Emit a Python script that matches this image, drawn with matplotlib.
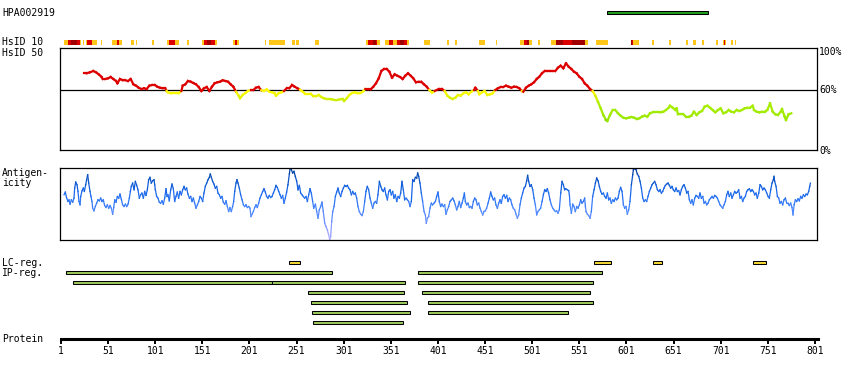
import matplotlib
matplotlib.use("Agg")
import matplotlib.pyplot as plt
import numpy as np
from matplotlib.collections import LineCollection
from matplotlib.colors import LinearSegmentedColormap

W, H = 850, 380
PX = 0.9425      # pixels per residue
X0 = 61          # pixel column of residue 1
FONT = "DejaVu Sans Mono"

# ---------------- data ----------------
antigen_start, antigen_end = 580, 688

# HsID 10 strip: start, end, level (1 = low, 2 = mid, 3 = high)
hsid10_start = [4.5, 8.1, 11.3, 17.7, 21.2, 24.0, 27.5, 28.9, 33.9, 43.4, 55.1, 60.1, 62.2,
                75.3, 80.6, 97.6, 113.1, 115.3, 121.6, 134.7, 150.6, 152.7, 155.6, 160.5,
                164.4, 183.8, 185.9, 188.1, 217.4, 222.0, 246.1, 250.3, 270.5, 324.6, 326.7,
                331.7, 335.2, 336.6, 344.8, 349.3, 352.9, 357.8, 360.7, 364.9, 367.8, 386.1,
                410.2, 419.0, 444.5, 462.2, 488.0, 492.3, 495.1, 497.2, 506.8, 520.9, 526.2,
                533.3, 542.9, 557.0, 568.6, 605.8, 606.9, 608.2, 627.7, 646.1, 664.1, 671.6,
                681.1, 696.0, 703.7, 704.5, 705.8, 712.2, 715.6]
hsid10_end = [8.1, 11.3, 17.7, 21.2, 22.5, 25.4, 28.9, 33.9, 39.5, 44.8, 60.1, 62.2, 65.4,
              78.5, 82.0, 99.4, 115.3, 121.6, 126.2, 136.5, 152.7, 155.6, 160.5, 164.4,
              166.2, 185.9, 188.1, 189.9, 218.1, 239.0, 248.9, 253.8, 274.7, 326.7, 331.7,
              335.2, 336.6, 339.5, 349.3, 352.9, 357.8, 360.7, 364.9, 367.8, 369.9, 392.5,
              412.4, 420.8, 450.9, 463.3, 492.3, 495.1, 497.2, 500.4, 509.2, 526.2, 533.3,
              542.9, 557.0, 559.8, 581.0, 606.9, 608.2, 613.9, 629.8, 647.9, 666.3, 674.4,
              683.2, 697.8, 704.5, 705.8, 706.6, 714.4, 717.1]
hsid10_level = [1, 2, 3, 2, 1, 1, 1, 2, 1, 1, 1, 2, 1,
                1, 1, 1, 1, 2, 1, 1, 1, 2, 3, 2,
                1, 1, 2, 1, 1, 1, 1, 1, 1, 1, 2,
                3, 2, 1, 1, 2, 1, 2, 3, 2, 1, 1,
                1, 1, 1, 1, 1, 2, 3, 1, 1, 1, 3,
                2, 3, 1, 1, 3, 2, 1, 1, 1, 1, 1,
                1, 1, 1, 2, 1, 1, 1]

# HsID 50 (% identity)
hsid50_pos = [25.4, 28.2, 31.8, 35.3, 38.1, 41.0, 43.8, 45.2, 48.0, 50.9,
              53.7, 56.5, 59.4, 60.8, 63.6, 66.4, 69.3, 72.1, 74.9, 77.8,
              80.6, 83.4, 86.2, 89.1, 91.9, 94.7, 97.6, 100.4, 103.2, 106.0,
              108.9, 111.7, 113.1, 114.5, 117.4, 120.2, 123.0, 125.8, 128.7, 130.1,
              132.9, 135.7, 138.6, 141.4, 144.2, 147.1, 149.9, 152.7, 155.6, 158.4,
              161.2, 164.0, 166.9, 169.7, 172.5, 175.4, 178.2, 181.0, 183.8, 186.7,
              189.5, 190.9, 193.7, 196.6, 199.4, 202.2, 205.1, 207.9, 210.7, 213.6,
              216.4, 219.2, 222.0, 224.9, 227.7, 229.1, 231.9, 234.8, 237.6, 240.4,
              243.3, 246.1, 248.9, 251.8, 254.6, 257.4, 260.2, 263.1, 265.9, 268.7,
              271.6, 274.4, 277.2, 280.0, 282.9, 285.7, 288.5, 291.4, 294.2, 297.0,
              299.9, 301.3, 304.1, 306.9, 309.8, 312.6, 315.4, 318.2, 321.1, 323.9,
              326.7, 329.6, 332.4, 335.2, 338.1, 340.9, 343.7, 346.5, 349.4, 352.2,
              355.0, 357.8, 360.7, 363.5, 366.3, 369.2, 372.0, 374.8, 377.6, 380.5,
              383.3, 386.1, 389.0, 391.8, 394.6, 397.5, 401.7,
              405.2, 408.1, 410.9, 413.7, 416.5, 419.4, 422.2, 425.0, 427.9, 430.7,
              433.5, 436.4, 439.2, 440.6, 443.4, 444.8, 447.7, 450.5, 453.3, 456.2,
              459.0, 461.8, 464.6, 467.5, 470.3, 473.1, 476.0, 478.8, 481.6, 484.5,
              487.3, 490.1, 491.5, 494.4, 497.2, 500.0, 502.8, 505.7, 508.5, 511.3,
              514.2, 517.0, 519.8, 522.6, 525.5, 528.3, 531.1, 534.0, 536.8, 539.6,
              542.5, 545.3, 548.1, 550.9, 553.8, 556.6, 559.4, 562.3, 565.1, 567.9,
              570.7, 573.6, 576.4, 579.2, 580.7, 583.5, 586.3, 589.1, 592.0, 594.8,
              597.6, 600.5, 603.3, 606.1, 609.0, 611.8, 614.6, 617.4, 620.3, 623.1,
              625.9, 628.8, 631.6, 634.4, 637.2, 640.1, 642.9, 645.7, 647.1, 650.0,
              652.8, 654.2, 655.6, 658.5, 661.3, 664.1, 667.0, 669.8, 672.6, 675.4,
              678.3, 681.1, 683.9, 686.8, 689.6, 692.4, 695.2, 698.1, 700.9, 703.7,
              706.6, 709.4, 712.2, 715.1, 717.9, 720.7, 723.5, 726.4, 729.2, 732.0,
              734.9, 736.3, 739.1, 741.9, 744.8, 747.6, 750.4, 753.3, 756.1, 758.9,
              761.7, 764.6, 766.0, 768.8, 770.2, 773.0, 775.9]
hsid50_pct = [76.7, 76.7, 77.7, 79.0, 77.7, 75.7, 73.3, 71.0, 71.0, 71.7,
              73.0, 71.0, 69.0, 66.7, 71.0, 69.7, 69.7, 69.0, 71.0, 65.7,
              64.3, 62.3, 61.0, 61.7, 61.0, 64.3, 65.0, 65.0, 63.3, 62.3,
              61.7, 61.7, 59.0, 57.7, 56.7, 56.7, 56.7, 56.7, 59.0, 64.3,
              65.7, 69.0, 68.3, 67.0, 65.7, 63.0, 59.0, 61.7, 63.0, 59.0,
              63.3, 66.7, 67.7, 68.3, 69.7, 69.0, 68.3, 65.7, 63.3, 58.3,
              54.3, 51.7, 55.0, 57.0, 59.0, 60.0, 60.0, 62.3, 63.0, 59.7,
              59.0, 60.7, 58.3, 57.7, 56.7, 54.3, 56.7, 57.7, 59.0, 61.7,
              61.7, 65.0, 63.3, 61.7, 60.3, 58.3, 56.3, 56.3, 56.3, 53.7,
              53.7, 55.0, 53.0, 51.7, 51.0, 51.0, 50.7, 50.0, 50.0, 50.7,
              51.0, 49.0, 51.7, 55.0, 57.0, 57.7, 56.7, 56.7, 58.3, 61.0,
              60.7, 60.7, 63.3, 66.7, 71.7, 79.0, 81.0, 81.0, 78.3, 72.3,
              75.7, 74.3, 73.0, 71.0, 74.3, 76.7, 74.3, 71.7, 67.7, 68.3,
              68.3, 65.7, 63.3, 60.0, 57.3, 59.0, 61.0,
              61.0, 59.0, 54.3, 52.3, 51.0, 52.3, 55.0, 54.3, 56.7, 57.7,
              55.7, 58.3, 60.0, 62.3, 59.0, 55.7, 57.7, 59.0, 55.0, 55.7,
              56.7, 60.0, 61.7, 63.0, 63.0, 64.3, 63.3, 62.3, 63.3, 63.0,
              61.7, 59.0, 58.3, 62.3, 64.3, 65.7, 67.7, 71.0, 73.3, 76.7,
              79.0, 79.0, 79.0, 79.0, 79.0, 82.3, 84.3, 81.7, 86.7, 83.3,
              81.0, 78.3, 76.7, 73.3, 71.0, 66.7, 64.3, 61.0, 59.0, 54.3,
              48.3, 41.7, 35.0, 30.0, 29.0, 35.0, 40.0, 40.0, 36.7, 34.3,
              32.3, 31.7, 32.3, 33.0, 32.3, 31.0, 31.7, 33.3, 34.3, 33.3,
              36.7, 37.7, 37.7, 37.7, 37.7, 38.3, 40.0, 42.3, 44.3, 42.3,
              40.0, 41.7, 35.7, 35.7, 35.7, 33.3, 33.3, 34.3, 38.3, 35.0,
              37.7, 39.0, 43.3, 44.3, 42.3, 40.0, 37.7, 40.0, 41.7, 36.7,
              37.7, 40.0, 38.3, 37.7, 40.0, 39.0, 40.0, 41.7, 42.3, 42.3,
              44.3, 40.0, 38.3, 37.7, 38.3, 38.3, 40.0, 46.7, 38.3, 35.7,
              35.0, 38.3, 41.0, 33.3, 30.0, 35.7, 36.7]

# antigenicity (relative score, 0 = bottom of panel)
ag_pos = [4.2, 5.6, 7.0, 8.4, 9.5, 10.6, 12.0, 13.4, 14.8, 15.5,
          16.6, 18.0, 19.0, 20.1, 21.2, 21.9, 23.3, 24.7, 25.8, 27.2,
          28.2, 29.3, 30.4, 31.8, 32.8, 33.9, 34.6, 36.0, 37.4, 38.8,
          40.3, 41.7, 43.1, 44.5, 45.9, 47.3, 48.7, 50.2, 51.6, 53.0,
          54.4, 55.8, 56.9, 58.0, 59.4, 60.8, 62.2, 63.6, 65.0, 66.4,
          67.8, 69.3, 70.7, 72.1, 73.5, 74.6, 75.6, 77.0, 78.5, 79.9,
          81.3, 82.7, 84.1, 85.5, 86.9, 88.4, 89.8, 91.2, 92.6, 94.0,
          95.4, 96.8, 98.3, 99.7, 100.4, 101.1, 102.5, 103.9, 105.3, 106.7,
          108.2, 109.6, 111.0, 112.4, 113.5, 114.5, 115.9, 117.4, 118.8, 120.2,
          121.6, 123.0, 124.4, 125.8, 127.3, 128.7, 130.1, 131.5, 132.9, 134.3,
          135.7, 137.2, 138.6, 140.0, 141.4, 142.8, 144.2, 145.7, 147.1, 148.5,
          149.9, 151.3, 152.7, 154.1, 155.6, 157.0, 158.4, 159.4, 160.5, 161.9,
          163.3, 164.7, 166.2, 167.6, 169.0, 170.4, 171.8, 173.2, 174.7, 176.1,
          177.5, 178.9, 180.3, 181.7, 183.1, 184.2, 185.3, 186.7, 187.7, 188.8,
          190.2, 191.6, 193.1, 194.5, 195.9, 197.3, 198.7, 200.1, 201.5, 202.6,
          203.7, 205.1, 206.5, 207.9, 209.3, 210.7, 212.1, 213.6, 215.0, 216.4,
          217.8, 219.2, 220.6, 222.0, 223.5, 224.9, 226.3, 227.7, 229.1, 230.5,
          232.0, 233.4, 234.8, 236.2, 237.6, 239.0, 240.4, 241.8, 243.3, 244.0,
          245.4, 246.8, 248.2, 249.6, 251.1, 252.5, 253.9, 255.3, 256.7, 258.1,
          259.5, 261.0, 262.4, 263.8, 265.2, 266.6, 268.0, 269.1,
          270.9, 272.3, 273.7, 275.1, 276.5, 277.9, 279.3, 280.8, 282.2, 283.6,
          285.0, 286.1, 287.1, 288.2, 289.3, 290.7, 292.1, 293.5, 294.9, 296.3,
          297.7, 299.2, 300.6, 302.0, 303.4, 304.8, 306.2, 307.6, 309.1, 310.5,
          311.9, 313.3, 314.7, 316.1, 317.5, 319.0, 320.4, 321.8, 323.2, 324.6,
          326.0, 327.4, 328.9, 330.3, 331.7, 333.1, 334.5, 335.9, 337.3, 338.8,
          340.2, 341.6, 343.0, 344.4, 345.8, 347.3, 348.7, 350.1, 351.5, 352.9,
          354.3, 355.7, 357.2, 358.6, 360.0, 361.4, 362.8, 364.2, 365.6, 367.1,
          368.5, 369.9, 371.3, 372.7, 374.1, 375.5, 377.0, 378.4, 379.4, 380.5,
          381.9, 383.3, 384.7, 386.2, 387.6, 388.6, 389.7, 391.1, 392.5, 393.9,
          395.3, 396.8, 398.2, 399.6, 401.0, 402.4, 403.8, 405.2, 406.7, 408.1,
          409.5, 410.9, 412.3, 413.7, 415.2, 416.6, 418.0, 419.4, 420.8, 422.2,
          423.6, 425.1, 426.5, 427.9, 429.0, 430.0, 431.4, 432.8, 434.3, 435.7,
          437.1, 438.5, 439.9, 441.3, 442.7, 444.2, 445.6, 447.0, 448.4, 449.8,
          451.2, 452.6, 454.1, 455.5, 456.9, 458.3, 459.7, 461.1, 462.5, 464.0,
          465.4, 466.8, 468.2, 469.6, 471.0, 472.5, 473.9, 475.3, 476.7, 478.1,
          479.5, 480.9, 482.4, 483.8, 485.2, 486.6, 488.0, 489.4, 490.8, 492.3,
          493.7, 495.1, 496.1, 497.2, 498.6, 500.0, 501.5, 502.9, 504.3, 505.7,
          507.1, 508.5, 509.9, 511.4, 512.8, 514.2, 515.6, 517.0, 518.4, 519.8,
          521.3, 522.7, 524.1, 525.5, 526.9, 528.3, 529.7, 531.2, 532.6, 534.0,
          535.4, 536.5,
          538.3, 539.7, 540.4, 541.1, 542.5, 543.9, 545.3, 546.7, 548.2, 549.6,
          551.0, 552.4, 553.8, 555.2, 556.6, 557.4, 558.1, 559.5, 560.9, 562.3,
          563.7, 565.1, 566.6, 568.0, 569.4, 570.8, 572.2, 573.6, 575.0, 576.5,
          577.9, 579.3, 580.7, 582.1, 583.5, 584.9, 586.4, 587.8, 589.2, 590.6,
          592.0, 593.4, 594.8, 596.3, 597.7, 599.1, 600.5, 601.9, 603.3, 604.7,
          606.2, 607.6, 608.3, 609.7, 611.1, 612.5, 614.0, 615.4, 616.8, 618.2,
          619.6, 621.0, 622.4, 623.8, 625.3, 626.7, 628.1, 629.5, 630.9, 632.3,
          633.8, 635.2, 636.6, 638.0, 639.4, 640.8, 642.2, 643.7, 645.1, 646.5,
          647.9, 649.3, 650.7, 652.1, 653.6, 655.0, 656.4, 657.8, 659.2, 660.6,
          662.0, 663.5, 664.9, 666.3, 667.7, 669.1, 670.5, 671.9, 673.4, 674.8,
          676.2, 677.6, 679.0, 680.4, 681.9, 683.3, 684.7, 686.1, 687.5, 688.9,
          690.3, 691.8, 693.2, 694.6, 696.0, 697.4, 698.8, 700.2, 701.7, 703.1,
          704.5, 705.9, 707.3, 708.7, 710.1, 711.6, 713.0, 714.4, 715.8, 717.2,
          718.6, 720.0, 721.5, 722.9, 724.3, 725.7, 727.1, 728.5, 729.9, 731.4,
          732.8, 734.2, 735.6, 737.0, 738.4, 739.8, 741.3, 742.7, 744.1, 745.5,
          746.9, 748.3, 749.8, 751.2, 752.6, 754.0, 755.4, 756.8, 757.5, 758.2,
          759.7, 761.1, 762.5, 763.9, 765.3, 766.7, 768.1, 769.6, 771.0, 772.4,
          773.8, 775.2, 776.6, 777.7, 778.8, 780.2, 781.6, 783.0, 784.4, 785.8,
          787.2, 788.7, 790.1, 791.5, 792.9, 794.3, 795.4, 796.1]
ag_val = [135, 143, 125, 115, 120, 107, 120, 113, 125, 155,
          173, 165, 145, 115, 105, 130, 147, 155, 145, 165,
          180, 195, 170, 145, 130, 115, 95, 87, 100, 110,
          120, 117, 125, 115, 120, 103, 97, 105, 95, 103,
          95, 77, 97, 120, 113, 130, 125, 137, 122, 105,
          100, 107, 100, 107, 125, 145, 160, 170, 150, 175,
          163, 150, 125, 135, 140, 125, 145, 133, 150, 180,
          187, 170, 177, 180, 165, 150, 130, 125, 113, 110,
          117, 107, 125, 153, 130, 135, 117, 150, 167, 153,
          115, 130, 143, 125, 145, 135, 150, 160, 150, 155,
          137, 125, 130, 115, 125, 110, 95, 105, 115, 130,
          125, 115, 140, 160, 170, 180, 187, 197, 187, 175,
          167, 155, 160, 140, 135, 125, 130, 113, 107, 117,
          100, 85, 97, 85, 100, 115, 145, 170, 180, 170,
          155, 135, 120, 105, 100, 105, 97, 100, 95, 70,
          77, 85, 97, 105, 97, 110, 125, 135, 145, 153,
          143, 130, 125, 133, 127, 130, 140, 150, 163, 157,
          145, 135, 125, 133, 110, 125, 143, 165, 197, 213,
          210, 200, 205, 190, 175, 150, 163, 140, 135, 130,
          125, 130, 115, 135, 153, 140, 115, 95,
          107, 85, 65, 90, 100, 113, 85, 50, 40, 30,
          15, 1, 10, 55, 85, 100, 130, 143, 155, 140,
          130, 145, 155, 163, 160, 163, 155, 150, 135, 145,
          137, 140, 125, 100, 85, 77, 73, 85, 115, 145,
          160, 150, 125, 110, 95, 110, 115, 110, 135, 175,
          160, 150, 145, 155, 135, 120, 145, 150, 135, 145,
          125, 135, 115, 130, 125, 140, 175, 150, 120, 125,
          120, 115, 100, 115, 180, 175, 187, 185, 200, 190,
          170, 140, 115, 85, 75, 50, 65, 70, 95, 110,
          105, 110, 115, 130, 143, 115, 100, 107, 100, 105,
          77, 90, 100, 115, 120, 125, 117, 105, 90, 100,
          115, 97, 110, 125, 140, 115, 105, 110, 97, 100,
          95, 115, 125, 120, 105, 110, 95, 85, 75, 85,
          87, 95, 110, 125, 143, 130, 120, 125, 105, 95,
          110, 120, 110, 130, 135, 125, 133, 115, 125, 120,
          105, 95, 90, 77, 65, 75, 105, 125, 140, 155,
          160, 177, 193, 175, 160, 165, 150, 125, 105, 75,
          85, 90, 95, 115, 135, 150, 145, 153, 140, 120,
          105, 95, 90, 85, 87, 80, 90, 140, 175, 165,
          150, 153,
          150, 147, 135, 105, 80, 107, 100, 85, 100, 95,
          105, 120, 110, 115, 125, 100, 85, 77, 73, 65,
          85, 130, 150, 170, 185, 177, 160, 145, 137, 140,
          130, 125, 140, 120, 125, 110, 120, 115, 125, 120,
          125, 145, 157, 145, 105, 95, 100, 77, 90, 115,
          165, 195, 210, 213, 210, 197, 190, 175, 155, 125,
          115, 120, 115, 130, 145, 155, 165, 170, 175, 165,
          150, 145, 150, 140, 145, 155, 163, 167, 170, 163,
          155, 160, 150, 145, 155, 145, 147, 135, 150, 160,
          165, 155, 140, 145, 120, 110, 120, 105, 125, 133,
          130, 125, 140, 125, 130, 110, 115, 105, 110, 120,
          125, 130, 125, 133, 130, 125, 115, 105, 100, 95,
          105, 115, 135, 145, 130, 140, 125, 135, 145, 140,
          143, 150, 125, 130, 115, 125, 130, 145, 150, 153,
          145, 150, 145, 135, 140, 125, 140, 165, 160, 150,
          155, 150, 140, 130, 125, 150, 170, 180, 190, 175,
          160, 130, 125, 110, 115, 105, 120, 125, 110, 110,
          103, 110, 97, 75, 105, 120, 115, 123, 117, 130,
          125, 135, 130, 137, 135, 145, 160, 170]

lc_start = [243, 567, 629, 735]
lc_end = [255, 585, 639, 749]

ip_start = [6, 380, 14, 225, 380, 263, 384, 266, 390, 267, 390, 268]
ip_end = [289, 575, 225, 366, 565, 365, 562, 368, 565, 371, 539, 364]
ip_row = [0, 0, 1, 1, 1, 2, 2, 3, 3, 4, 4, 5]

tick_res = [1, 51, 101, 151, 201, 251, 301, 351, 401, 451, 501, 551, 601, 651, 701, 751, 801]


# ---------------- helpers ----------------
def res_lim(x0, x1):
    return ((x0 - X0) / PX + 1, (x1 - X0) / PX + 1)


def px_axes(x0, y0, x1, y1):
    ax = fig.add_axes([x0 / W, 1 - y1 / H, (x1 - x0) / W, (y1 - y0) / H])
    ax.set_xlim(*res_lim(x0, x1))
    return ax


def label(x, y, s, ha="left"):
    fig.text(x / W, 1 - y / H, s, ha=ha, va="center", family=FONT, fontsize=7)


def colored_line(ax, x, y, color_fn, lw):
    x = np.asarray(x, float)
    y = np.asarray(y, float)
    pts = np.column_stack([x, y]).reshape(-1, 1, 2)
    segs = np.concatenate([pts[:-1], pts[1:]], axis=1)
    mids = (y[:-1] + y[1:]) / 2
    lc = LineCollection(segs, colors=[color_fn(m) for m in mids], linewidths=lw,
                        capstyle="projecting", joinstyle="miter")
    ax.add_collection(lc)


low_cmap = LinearSegmentedColormap.from_list(
    "low", [(0, "#3c9600"), (0.06, "#99e800"), (0.5, "#a8ee00"),
            (0.69, "#ccee00"), (0.88, "#f4f800"), (1.0, "#ffff00")])
ag_cmap = LinearSegmentedColormap.from_list(
    "ag", [(0, "#b8b0ff"), (0.25, "#7090ff"), (0.42, "#4a88ff"), (0.55, "#2a74f4"),
           (0.7, "#1464e6"), (0.85, "#0a52c4"), (1, "#003d96")])


def hsid_color(p):
    if p >= 60:
        return "#dd0000"
    return low_cmap(np.clip((p - 28) / 32, 0, 1))


def ag_color(v):
    return ag_cmap(np.clip(v / 215, 0, 1))


# ---------------- figure ----------------
fig = plt.figure(figsize=(W / 100, H / 100), dpi=100)

# overlay in pixel rows for feature tracks
ov = px_axes(0, 0, W, H)
ov.set_ylim(H, 0)
ov.axis("off")

# antigen fragment
ov.barh(12.3, antigen_end - antigen_start, left=antigen_start, height=3.5,
        color="#20a020", edgecolor="black", linewidth=0.75)

# HsID 10 strip
lvl_col = {1: "#ffc61a", 2: "#dd0000", 3: "#a00000"}
for s, e, l in zip(hsid10_start, hsid10_end, hsid10_level):
    ov.barh(42.5, e - s, left=s, height=5, color=lvl_col[l], linewidth=0)

# LC and IP regions
ov.barh(262.3, np.subtract(lc_end, lc_start), left=lc_start, height=3.5,
        color="#f5d936", edgecolor="black", linewidth=0.75)
ip_y = [272.3 + 10 * r for r in ip_row]
ov.barh(ip_y, np.subtract(ip_end, ip_start), left=ip_start, height=3.5,
        color="#9ec95c", edgecolor="black", linewidth=0.75)

# HsID 50 panel
ax1 = px_axes(60.3, 48, 817.3, 150)
ax1.set_ylim(0, 102)
ax1.set_xticks([])
ax1.set_yticks([])
for sp in ax1.spines.values():
    sp.set_linewidth(0.9)
ax1.axhline(60, color="black", lw=0.9)
colored_line(ax1, hsid50_pos, hsid50_pct, hsid_color, 1.6)

# antigenicity panel
ax2 = px_axes(60.3, 168, 817.3, 240)
ax2.set_ylim(0, 215)
ax2.set_xticks([])
ax2.set_yticks([])
for sp in ax2.spines.values():
    sp.set_linewidth(0.9)
colored_line(ax2, ag_pos, ag_val, ag_color, 0.9)

# protein axis
ax3 = px_axes(61, 330, 817.7, 339)
ax3.set_ylim(0, 1)
for k in ["top", "left", "right"]:
    ax3.spines[k].set_visible(False)
ax3.spines["bottom"].set_linewidth(2.2)
ax3.set_yticks([])
ax3.set_xticks(tick_res)
ax3.set_xticklabels([str(t) for t in tick_res], family=FONT, fontsize=7)
ax3.tick_params(axis="x", length=3.5, width=1.4, pad=1.5, direction="out")
ax3.patch.set_alpha(0)

# texts
label(2, 12.5, "HPA002919")
label(2, 42, "HsID 10")
label(2, 52.5, "HsID 50")
label(2, 173.5, "Antigen-")
label(2, 183.5, "icity")
label(2, 263, "LC-reg.")
label(2, 273, "IP-reg.")
label(2, 339.5, "Protein")
label(819, 52, "100%")
label(819, 90, "60%")
label(819, 150.5, "0%")

fig.savefig("out.png", dpi=100)
